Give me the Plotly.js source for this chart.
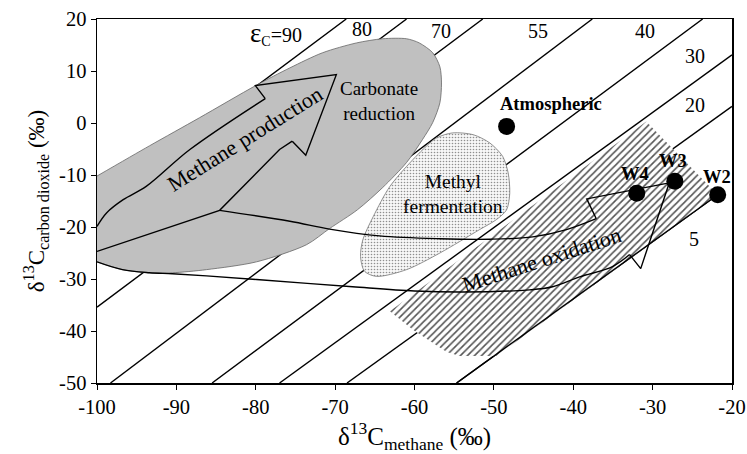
<!DOCTYPE html>
<html><head><meta charset="utf-8">
<script src="https://cdn.plot.ly/plotly-3.0.1.min.js"></script>
<style>html,body{margin:0;padding:0;background:#fff}#chart{width:747px;height:454px}</style>
</head><body><div id="chart"></div>
<script>
// ---- data ----
const epsLabels = ['90','80','70','55','40','30','20','5'];
const epsX0 = [-100, -100, -100, -98.3, -85.5, -77.0, -68.5, -54.7];
const epsY0 = [-15.8, -24.5, -35.4, -50, -50, -50, -50, -50];
const epsX1 = [-68.6, -61.0, -51.4, -37.6, -23.7, -20, -20, -21.8];
const epsY1 = [20, 20, 20, 20, 20, 13.1, 3.2, -13.8];
const epsLabelX = [-77.4, -66.6, -56.7, -44.4, -31.0, -24.7, -24.7, -24.85];
const epsLabelY = [17.2, 18.0, 17.65, 17.65, 17.65, 12.9, 3.5, -22.4];

const carbX = [-100, -93.4, -87.1, -80.0, -75.7, -71.6, -67.3, -64.0, -61.0, -59.4, -57.7, -56.8, -56.6, -56.8, -57.7, -59.0, -61.0, -64.0, -67.2, -70.7, -73.6, -79.9, -86.2, -90.5, -93.4, -96.8, -100];
const carbY = [-10.2, -4.4, 1.0, 7.2, 10.6, 13.5, 15.4, 16.2, 16.2, 15.4, 13.5, 10.8, 7.7, 3.9, 0.1, -3.2, -7.6, -12.4, -16.7, -20.3, -23.4, -26.7, -28.2, -28.8, -28.8, -28.2, -26.7];

const methX = [-57.25, -55.2, -52.6, -50.5, -48.9, -48.2, -48.0, -48.4, -49.7, -51.8, -56.8, -61.0, -64.8, -66.3, -66.8, -66.5, -65.2, -63.1, -59.8, -57.25];
const methY = [-2.9, -1.9, -2.25, -3.85, -6.4, -9.6, -13.5, -16.7, -18.6, -20.5, -25.0, -28.2, -29.5, -28.5, -25.65, -22.4, -18.0, -12.2, -6.4, -2.9];

const oxX = [-30.8, -24.9, -21.8, -49.7, -54.3, -56.0, -60.2, -63.1, -30.8];
const oxY = [0.3, -9.0, -13.8, -44.8, -44.8, -44.0, -39.75, -36.2, 0.3];

// Methane production block arrow
const prodUpX = [-100, -98.8, -96.7, -93.8, -88.3, -78.8];
const prodUpY = [-19.9, -17.3, -14.75, -12.2, -5.1, 4.7];
const prodHeadX = [-78.8, -80.05, -69.85, -73.7, -75.4];
const prodHeadY = [4.7, 7.2, 9.3, -6.2, -3.5];
const prodLowX = [-75.4, -77.0, -84.55, -100];
const prodLowY = [-3.5, -5.1, -16.8, -24.7];

// Methane oxidation curved arrow
const oxUpX = [-84.55, -75.7, -70.7, -64.4, -56.8, -50.5, -45.1, -40.85, -37.1];
const oxUpY = [-16.8, -18.9, -20.4, -21.7, -22.25, -22.35, -21.9, -20.5, -18.4];
const oxHeadX = [-37.1, -38.3, -27.9, -31.5, -32.9];
const oxHeadY = [-18.4, -14.6, -11.5, -28.0, -25.3];
const oxLowX = [-32.9, -35.05, -39.2, -42.6, -45.5, -53.9, -60.0, -67.8, -79.9, -86.2, -90.5, -93.4, -96.8, -100];
const oxLowY = [-25.3, -27.6, -29.6, -31.5, -32.1, -32.5, -32.3, -31.5, -30.1, -29.4, -29.0, -28.8, -28.2, -26.7];

const sampleNames = ['Atmospheric', 'W4', 'W3', 'W2'];
const sampleX = [-48.4, -32.0, -27.2, -21.8];
const sampleY = [-0.65, -13.5, -11.2, -13.8];

const xTicks = [-100, -90, -80, -70, -60, -50, -40, -30, -20];
const xTickText = ['-100', '-90', '-80', '-70', '-60', '-50', '-40', '-30', '-20'];
const yTicks = [-50, -40, -30, -20, -10, 0, 10, 20];
const yTickText = ['-50', '-40', '-30', '-20', '-10', '0', '10', '20'];

// ---- build ----
const FONT = 'Liberation Serif, Times New Roman, serif';
const ex = [], ey = [];
for (let i = 0; i < epsLabels.length; i++) { ex.push(epsX0[i], epsX1[i], null); ey.push(epsY0[i], epsY1[i], null); }
const blk = {color: '#000', width: 1.4};
const spl = {color: '#000', width: 1.4, shape: 'spline'};
const traces = [
  {x: ex, y: ey, mode: 'lines', line: blk, hoverinfo: 'skip'},
  {x: carbX, y: carbY, mode: 'lines', fill: 'toself', fillcolor: '#c0c0c0', line: {color: '#666', width: 0.8, shape: 'spline', smoothing: 0.8}, hoverinfo: 'skip'},
  {x: methX, y: methY, mode: 'lines', fill: 'toself', fillcolor: '#f4f4f4',
   fillpattern: {shape: '.', bgcolor: '#f7f7f7', fgcolor: '#8f8f8f', size: 3, solidity: 0.22},
   line: {color: '#777', width: 0.8, shape: 'spline', smoothing: 0.8}, hoverinfo: 'skip'},
  {x: oxX, y: oxY, mode: 'lines', fill: 'toself', fillcolor: '#fff',
   fillpattern: {shape: '/', bgcolor: '#ffffff', fgcolor: '#555', size: 5, solidity: 0.32},
   line: {color: 'rgba(0,0,0,0)', width: 0}, hoverinfo: 'skip'},
  {x: [epsX0[7], epsX1[7]], y: [epsY0[7], epsY1[7]], mode: 'lines', line: blk, hoverinfo: 'skip'},
  {x: prodUpX, y: prodUpY, mode: 'lines', line: spl, hoverinfo: 'skip'},
  {x: prodHeadX, y: prodHeadY, mode: 'lines', line: blk, hoverinfo: 'skip'},
  {x: prodLowX, y: prodLowY, mode: 'lines', line: blk, hoverinfo: 'skip'},
  {x: oxUpX, y: oxUpY, mode: 'lines', line: spl, hoverinfo: 'skip'},
  {x: oxHeadX, y: oxHeadY, mode: 'lines', line: blk, hoverinfo: 'skip'},
  {x: oxLowX, y: oxLowY, mode: 'lines', line: spl, hoverinfo: 'skip'},
  {x: sampleX, y: sampleY, mode: 'markers', marker: {color: '#000', size: 17}, hoverinfo: 'skip'}
];

const annotations = [];
for (let i = 0; i < epsLabels.length; i++) {
  annotations.push({x: epsLabelX[i], y: epsLabelY[i], xref: 'x', yref: 'y', showarrow: false,
    text: i === 0 ? "<span style='font-size:27px'>ε</span><sub>C</sub>=90" : epsLabels[i],
    font: {family: FONT, size: 20, color: '#000'}});
}
const shifts = [[44, 22], [-2, 19], [-2, 20], [-1, 18]];
for (let i = 0; i < sampleNames.length; i++) {
  annotations.push({x: sampleX[i], y: sampleY[i], xref: 'x', yref: 'y', showarrow: false,
    xshift: shifts[i][0], yshift: shifts[i][1], text: '<b>' + sampleNames[i] + '</b>',
    font: {family: FONT, size: 18.5, color: '#000'}});
}
annotations.push(
  {x: -64.5, y: 4.3, text: 'Carbonate<br>reduction', showarrow: false, font: {family: FONT, size: 19, color: '#000'}},
  {x: -55.2, y: -13.6, text: 'Methyl<br>fermentation', showarrow: false, font: {family: FONT, size: 19.5, color: '#000'}},
  {x: -81.3, y: -3.0, text: 'Methane production', textangle: -32, showarrow: false, font: {family: FONT, size: 22, color: '#000'}},
  {x: -43.9, y: -26.3, text: 'Methane oxidation', textangle: -18, showarrow: false, font: {family: FONT, size: 22, color: '#000'}}
);

const axisCommon = {showline: true, mirror: true, linecolor: '#000', linewidth: 1.5, ticks: 'outside', ticklen: 5,
  tickcolor: '#000', tickwidth: 1, showgrid: false, zeroline: false, tickfont: {family: FONT, size: 20.5, color: '#000'}};
const layout = {
  width: 747, height: 454, margin: {l: 97, r: 15, t: 19, b: 71},
  paper_bgcolor: '#fff', plot_bgcolor: '#fff', showlegend: false,
  xaxis: Object.assign({}, axisCommon, {range: [-100, -20], tickvals: xTicks, ticktext: xTickText,
    title: {text: 'δ<sup>13</sup>C<sub>methane</sub> (‰)', font: {family: FONT, size: 25, color: '#000'}, standoff: 4}}),
  yaxis: Object.assign({}, axisCommon, {range: [-50, 20], tickvals: yTicks, ticktext: yTickText,
    title: {text: 'δ<sup>13</sup>C<sub>carbon dioxide</sub> (‰)', font: {family: FONT, size: 23, color: '#000'}, standoff: 8}}),
  annotations: annotations
};
Plotly.newPlot('chart', traces, layout, {displayModeBar: false, staticPlot: true});
</script></body></html>
